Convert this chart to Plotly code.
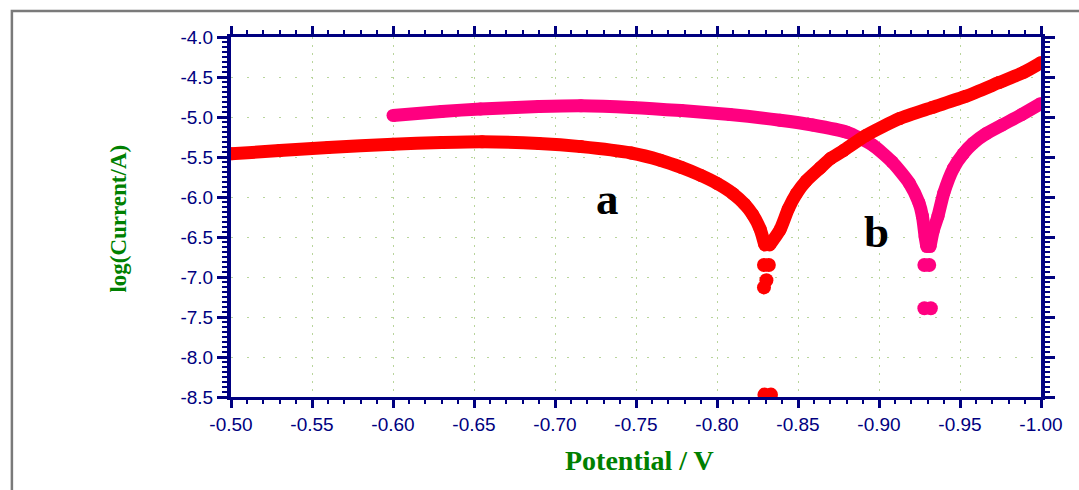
import plotly.graph_objects as go

# Curve a (red) - left branch then right branch of the Tafel plot
a_left_x = [-0.500, -0.530, -0.560, -0.600, -0.630, -0.655, -0.690, -0.716, -0.747, -0.765,
            -0.778, -0.790, -0.800, -0.810, -0.817, -0.822, -0.8266, -0.8295]
a_left_y = [-5.46, -5.42, -5.38, -5.34, -5.32, -5.31, -5.33, -5.37, -5.45, -5.54,
            -5.63, -5.73, -5.83, -5.96, -6.09, -6.22, -6.40, -6.60]
a_right_x = [-0.8325, -0.8389, -0.844, -0.849, -0.855, -0.8635, -0.870, -0.878, -0.892,
             -0.9127, -0.933, -0.9537, -0.974, -0.9895, -1.000]
a_right_y = [-6.60, -6.41, -6.15, -5.96, -5.80, -5.64, -5.52, -5.42, -5.23,
             -5.02, -4.88, -4.74, -4.57, -4.44, -4.32]
a_dots_x = [-0.8290, -0.8320, -0.8305, -0.8290, -0.8293, -0.8333]
a_dots_y = [-6.85, -6.85, -7.04, -7.13, -8.47, -8.47]

# Curve b (pink)
b_left_x = [-0.600, -0.630, -0.654, -0.690, -0.716, -0.747, -0.778, -0.808, -0.8389, -0.859,
            -0.880, -0.896, -0.908, -0.9188, -0.9246, -0.9268, -0.9285, -0.9295]
b_left_y = [-4.98, -4.93, -4.90, -4.87, -4.86, -4.88, -4.92, -4.97, -5.04, -5.10,
            -5.19, -5.35, -5.56, -5.83, -6.07, -6.24, -6.50, -6.62]
b_right_x = [-0.9315, -0.9335, -0.9364, -0.940, -0.946, -0.952, -0.958, -0.966, -0.976,
             -0.988, -1.000]
b_right_y = [-6.62, -6.42, -6.24, -5.95, -5.64, -5.46, -5.33, -5.21, -5.10, -4.97, -4.83]
b_dots_x = [-0.9280, -0.9310, -0.9280, -0.9320]
b_dots_y = [-6.85, -6.85, -7.39, -7.39]

x_tick_vals = [-0.50, -0.55, -0.60, -0.65, -0.70, -0.75, -0.80, -0.85, -0.90, -0.95, -1.00]
x_tick_text = ["-0.50", "-0.55", "-0.60", "-0.65", "-0.70", "-0.75", "-0.80", "-0.85",
               "-0.90", "-0.95", "-1.00"]
y_tick_vals = [-4.0, -4.5, -5.0, -5.5, -6.0, -6.5, -7.0, -7.5, -8.0, -8.5]
y_tick_text = ["-4.0", "-4.5", "-5.0", "-5.5", "-6.0", "-6.5", "-7.0", "-7.5", "-8.0", "-8.5"]

RED = "#ff0000"
PINK = "#ff0080"
NAVY = "#000080"
GREEN = "#008000"
GRID = "#b9d59c"
W = 13

fig = go.Figure()

def curve(x, y, color):
    fig.add_trace(go.Scatter(x=x, y=y, mode="lines+markers",
                             line=dict(color=color, width=W, shape="spline", smoothing=0.6),
                             marker=dict(color=color, size=W, line=dict(width=0)),
                             showlegend=False, hoverinfo="skip"))

def dots(x, y, color):
    fig.add_trace(go.Scatter(x=x, y=y, mode="markers",
                             marker=dict(color=color, size=W + 1, line=dict(width=0)),
                             showlegend=False, hoverinfo="skip"))

curve(b_left_x, b_left_y, PINK)
curve(b_right_x, b_right_y, PINK)
dots(b_dots_x, b_dots_y, PINK)
curve(a_left_x, a_left_y, RED)
curve(a_right_x, a_right_y, RED)
dots(a_dots_x, a_dots_y, RED)

tickfont = dict(family="Liberation Sans, Arial, sans-serif", size=19, color=NAVY)

fig.update_xaxes(range=[-0.5, -1.0], tickvals=x_tick_vals, ticktext=x_tick_text,
                 showline=True, linecolor=NAVY, linewidth=3, mirror="allticks",
                 ticks="outside", ticklen=8, tickwidth=3, tickcolor=NAVY,
                 minor=dict(dtick=0.01, tick0=-0.5, ticks="outside", ticklen=4, tickwidth=2,
                            tickcolor=NAVY, showgrid=False),
                 showgrid=True, gridcolor=GRID, gridwidth=1, griddash="2px,6px",
                 zeroline=False, tickfont=tickfont)
fig.update_yaxes(range=[-8.5, -4.0], tickvals=y_tick_vals, ticktext=y_tick_text,
                 showline=True, linecolor=NAVY, linewidth=4, mirror="allticks",
                 ticks="outside", ticklen=10, tickwidth=3, tickcolor=NAVY,
                 minor=dict(dtick=0.0625, tick0=-4.0, ticks="outside", ticklen=5, tickwidth=2,
                            tickcolor=NAVY, showgrid=False),
                 showgrid=True, gridcolor=GRID, gridwidth=1, griddash="2px,14px",
                 zeroline=False, tickfont=tickfont)

serif = "Liberation Serif, Times New Roman, serif"

fig.update_layout(
    width=1079, height=490,
    margin=dict(l=231, r=38, t=37, b=93),
    paper_bgcolor="white", plot_bgcolor="white",
    shapes=[dict(type="rect", xref="paper", yref="paper", x0=-0.2705, x1=1.2,
                 y0=-0.4, y1=1.072, line=dict(color="#7a7a7a", width=2.5),
                 fillcolor="rgba(0,0,0,0)", layer="below")],
    annotations=[
        dict(text="<b>Potential / V</b>", xref="paper", yref="paper", x=0.5046, y=-0.176,
             showarrow=False, font=dict(family=serif, size=28, color=GREEN),
             xanchor="center", yanchor="middle"),
        dict(text="<b>log(Current/A)</b>", xref="paper", yref="paper", x=-0.1385, y=0.495,
             showarrow=False, font=dict(family=serif, size=23, color=GREEN), textangle=-90,
             xanchor="center", yanchor="middle"),
        dict(text="<b>a</b>", x=-0.7323, y=-6.03, showarrow=False,
             font=dict(family=serif, size=45, color="black")),
        dict(text="<b>b</b>", x=-0.8987, y=-6.44, showarrow=False,
             font=dict(family=serif, size=45, color="black")),
    ],
)

fig.write_html("out.html")
